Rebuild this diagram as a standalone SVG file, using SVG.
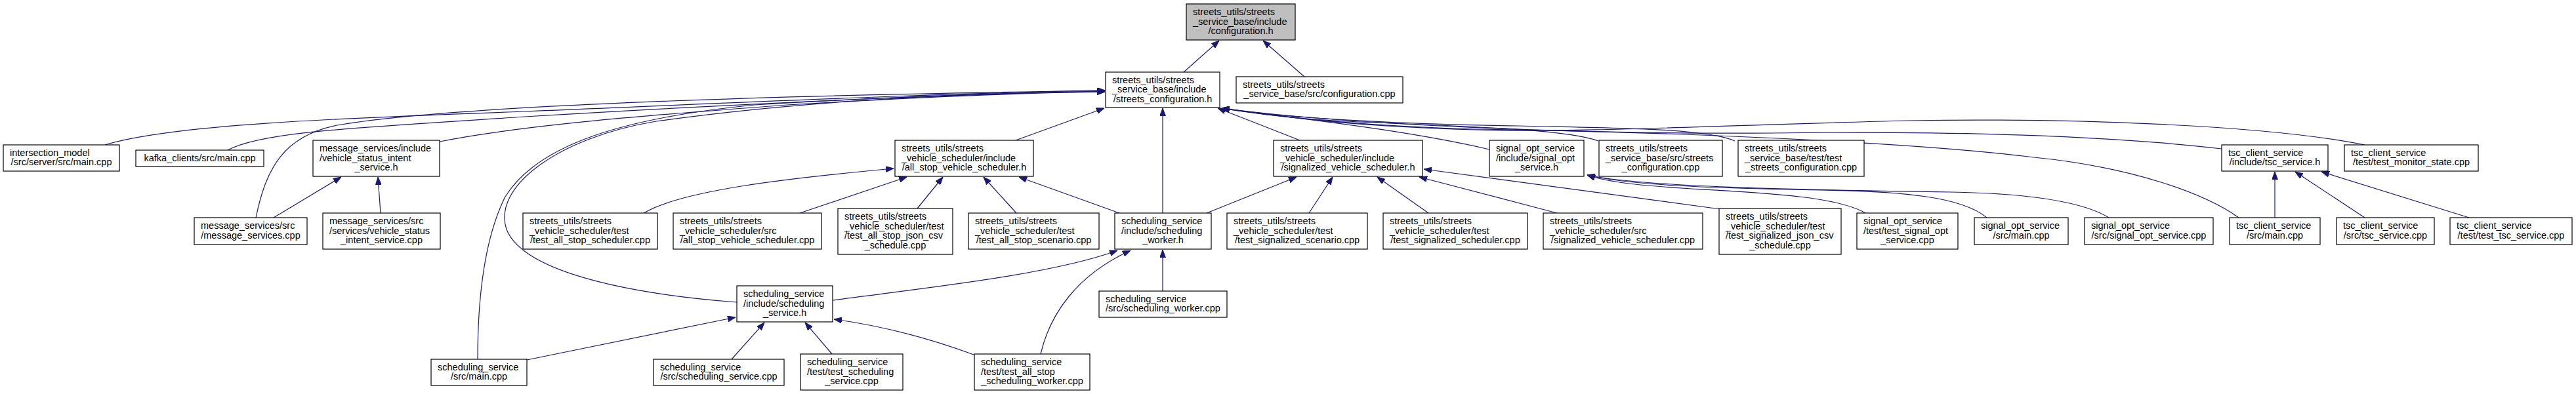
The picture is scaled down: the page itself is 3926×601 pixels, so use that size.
<svg xmlns="http://www.w3.org/2000/svg" width="3926" height="601" viewBox="0 0 3926 601">
<style>
.n rect{fill:#fff;stroke:#000;stroke-width:1.2}
.n.root rect{fill:#bfbfbf}
.n text{font-family:"Liberation Sans",Arial,sans-serif;font-size:14.5px;fill:#000}
.n .c{text-anchor:middle}
.e path{fill:none;stroke:#191970;stroke-width:1.2;marker-end:url(#ah)}
</style>
<defs>
<marker id="ah" markerWidth="12" markerHeight="9" refX="12" refY="4.5" orient="auto" markerUnits="userSpaceOnUse">
<path d="M0,0 L12,4.5 L0,9 z" fill="#191970" stroke="#191970" stroke-width="1"/>
</marker>
</defs>
<rect width="3926" height="601" fill="#fff"/>
<g id="edges" class="e">
<path d="M1804,110 L1858,62"/>
<path d="M1988,117 L1925,62"/>
<path d="M1548,214 L1683,165"/>
<path d="M1772,325 L1772,165"/>
<path d="M1981,214 L1856,165"/>
<path d="M160,221 C260,190 520,180 800,170 C1100,158 1400,143 1684,138"/>
<path d="M347,229 C400,200 550,195 800,178 C1100,160 1400,145 1684,139"/>
<path d="M670,216 C800,190 1000,175 1200,160 C1400,148 1550,142 1684,140"/>
<path d="M390,332 C405,260 430,205 520,190 C700,160 1200,145 1684,138"/>
<path d="M728,548 C728,450 740,360 770,300 C820,220 950,180 1150,160 C1400,145 1550,141 1684,140"/>
<path d="M1123,461 C980,450 800,420 772,350 C750,285 850,210 1000,185 C1250,150 1500,142 1684,139"/>
<path d="M1706,325 L1553,270"/>
<path d="M1549,325 L1499,270"/>
<path d="M1398,318 L1437,270"/>
<path d="M1219,325 L1382,270"/>
<path d="M981,325 C1040,290 1200,272 1362,257"/>
<path d="M1839,325 L1976,270"/>
<path d="M1995,325 L2031,270"/>
<path d="M2177,325 L2099,270"/>
<path d="M2373,325 L2163,270"/>
<path d="M2622,319 L2170,258"/>
<path d="M2270,228 C2150,200 2000,183 1862,165"/>
<path d="M2436,215 C2380,195 2200,192 2050,185 C1960,180 1910,172 1862,165"/>
<path d="M2644,215 C2600,195 2450,195 2313,192 C2150,190 1950,180 1862,165"/>
<path d="M3386,227 C3200,205 2950,200 2700,203 C2400,205 2050,190 1862,165"/>
<path d="M3604,221 C3450,190 3150,180 2909,184 C2650,190 2400,203 2250,198 C2050,192 1950,178 1862,165"/>
<path d="M3412,332 C3360,295 3250,255 3100,240 C2900,215 2500,200 2247,197 C2100,193 1950,180 1862,165"/>
<path d="M2843,325 C2800,300 2700,295 2578,288 C2500,283 2450,278 2419,267"/>
<path d="M3028,332 C2990,300 2900,292 2777,290 C2600,287 2480,282 2419,267"/>
<path d="M3214,332 C3170,305 3080,295 2975,293 C2750,290 2500,285 2419,267"/>
<path d="M3467,332 L3467,262"/>
<path d="M3604,332 L3498,262"/>
<path d="M3763,332 L3538,262"/>
<path d="M580,325 L576,270"/>
<path d="M417,332 L520,270"/>
<path d="M803,549 L1121,484"/>
<path d="M1115,548 L1165,492"/>
<path d="M1268,540 L1227,492"/>
<path d="M1484,541 C1400,510 1330,495 1271,487"/>
<path d="M1269,458 C1400,440 1600,420 1703,382"/>
<path d="M1586,540 C1600,480 1640,420 1723,382"/>
<path d="M1772,444 L1772,381"/>
</g>
<g id="n_root" class="n root"><rect x="1808" y="6" width="166" height="55"/><text x="1818" y="23">streets_utils/streets</text><text x="1818" y="37.5">_service_base/include</text><text class="c" x="1891" y="52">/configuration.h</text></g>
<g id="n_sc" class="n"><rect x="1685" y="110" width="174" height="54"/><text x="1695" y="126.5">streets_utils/streets</text><text x="1695" y="141">_service_base/include</text><text class="c" x="1772" y="155.5">/streets_configuration.h</text></g>
<g id="n_cfgcpp" class="n"><rect x="1884" y="117" width="254" height="40"/><text x="1894" y="133.75">streets_utils/streets</text><text class="c" x="2011" y="148.25">_service_base/src/configuration.cpp</text></g>
<g id="n_im" class="n"><rect x="5" y="221" width="177" height="40"/><text x="15" y="237.75">intersection_model</text><text class="c" x="93.5" y="252.25">/src/server/src/main.cpp</text></g>
<g id="n_kafka" class="n"><rect x="207" y="229" width="195" height="25"/><text class="c" x="304.5" y="245.5">kafka_clients/src/main.cpp</text></g>
<g id="n_vsi_h" class="n"><rect x="477" y="214" width="193" height="55"/><text x="487" y="231">message_services/include</text><text x="487" y="245.5">/vehicle_status_intent</text><text class="c" x="573.5" y="260">_service.h</text></g>
<g id="n_as" class="n"><rect x="1364" y="214" width="211" height="55"/><text x="1374" y="231">streets_utils/streets</text><text x="1374" y="245.5">_vehicle_scheduler/include</text><text class="c" x="1469.5" y="260">/all_stop_vehicle_scheduler.h</text></g>
<g id="n_sv" class="n"><rect x="1941" y="214" width="227" height="55"/><text x="1951" y="231">streets_utils/streets</text><text x="1951" y="245.5">_vehicle_scheduler/include</text><text class="c" x="2054.5" y="260">/signalized_vehicle_scheduler.h</text></g>
<g id="n_so_h" class="n"><rect x="2270" y="214" width="144" height="55"/><text x="2280" y="231">signal_opt_service</text><text x="2280" y="245.5">/include/signal_opt</text><text class="c" x="2342" y="260">_service.h</text></g>
<g id="n_sccpp" class="n"><rect x="2437" y="214" width="188" height="55"/><text x="2447" y="231">streets_utils/streets</text><text x="2447" y="245.5">_service_base/src/streets</text><text class="c" x="2531" y="260">_configuration.cpp</text></g>
<g id="n_tsccfg" class="n"><rect x="2649" y="214" width="192" height="55"/><text x="2659" y="231">streets_utils/streets</text><text x="2659" y="245.5">_service_base/test/test</text><text class="c" x="2745" y="260">_streets_configuration.cpp</text></g>
<g id="n_tsc_h" class="n"><rect x="3386" y="221" width="162" height="40"/><text x="3396" y="237.75">tsc_client_service</text><text class="c" x="3467" y="252.25">/include/tsc_service.h</text></g>
<g id="n_tms" class="n"><rect x="3573" y="221" width="204" height="40"/><text x="3583" y="237.75">tsc_client_service</text><text class="c" x="3675" y="252.25">/test/test_monitor_state.cpp</text></g>
<g id="n_mscpp" class="n"><rect x="296" y="332" width="172" height="41"/><text x="306" y="349.25">message_services/src</text><text class="c" x="382" y="363.75">/message_services.cpp</text></g>
<g id="n_vsicpp" class="n"><rect x="492" y="325" width="179" height="55"/><text x="502" y="342">message_services/src</text><text x="502" y="356.5">/services/vehicle_status</text><text class="c" x="581.5" y="371">_intent_service.cpp</text></g>
<g id="n_tass" class="n"><rect x="797" y="325" width="205" height="55"/><text x="807" y="342">streets_utils/streets</text><text x="807" y="356.5">_vehicle_scheduler/test</text><text class="c" x="899.5" y="371">/test_all_stop_scheduler.cpp</text></g>
<g id="n_asvcpp" class="n"><rect x="1026" y="325" width="226" height="55"/><text x="1036" y="342">streets_utils/streets</text><text x="1036" y="356.5">_vehicle_scheduler/src</text><text class="c" x="1139" y="371">/all_stop_vehicle_scheduler.cpp</text></g>
<g id="n_tasjson" class="n"><rect x="1277" y="318" width="175" height="70"/><text x="1287" y="335.25">streets_utils/streets</text><text x="1287" y="349.75">_vehicle_scheduler/test</text><text x="1287" y="364.25">/test_all_stop_json_csv</text><text class="c" x="1364.5" y="378.75">_schedule.cpp</text></g>
<g id="n_tasscen" class="n"><rect x="1476" y="325" width="199" height="55"/><text x="1486" y="342">streets_utils/streets</text><text x="1486" y="356.5">_vehicle_scheduler/test</text><text class="c" x="1575.5" y="371">/test_all_stop_scenario.cpp</text></g>
<g id="n_swh" class="n"><rect x="1699" y="325" width="147" height="55"/><text x="1709" y="342">scheduling_service</text><text x="1709" y="356.5">/include/scheduling</text><text class="c" x="1772.5" y="371">_worker.h</text></g>
<g id="n_tsigscen" class="n"><rect x="1870" y="325" width="214" height="55"/><text x="1880" y="342">streets_utils/streets</text><text x="1880" y="356.5">_vehicle_scheduler/test</text><text class="c" x="1977" y="371">/test_signalized_scenario.cpp</text></g>
<g id="n_tsigsched" class="n"><rect x="2108" y="325" width="220" height="55"/><text x="2118" y="342">streets_utils/streets</text><text x="2118" y="356.5">_vehicle_scheduler/test</text><text class="c" x="2218" y="371">/test_signalized_scheduler.cpp</text></g>
<g id="n_svcpp" class="n"><rect x="2352" y="325" width="243" height="55"/><text x="2362" y="342">streets_utils/streets</text><text x="2362" y="356.5">_vehicle_scheduler/src</text><text class="c" x="2473.5" y="371">/signalized_vehicle_scheduler.cpp</text></g>
<g id="n_tsigjson" class="n"><rect x="2620" y="318" width="186" height="70"/><text x="2630" y="335.25">streets_utils/streets</text><text x="2630" y="349.75">_vehicle_scheduler/test</text><text x="2630" y="364.25">/test_signalized_json_csv</text><text class="c" x="2713" y="378.75">_schedule.cpp</text></g>
<g id="n_tsocpp" class="n"><rect x="2830" y="325" width="154" height="55"/><text x="2840" y="342">signal_opt_service</text><text x="2840" y="356.5">/test/test_signal_opt</text><text class="c" x="2907" y="371">_service.cpp</text></g>
<g id="n_somain" class="n"><rect x="3009" y="332" width="143" height="41"/><text x="3019" y="349.25">signal_opt_service</text><text class="c" x="3080.5" y="363.75">/src/main.cpp</text></g>
<g id="n_socpp" class="n"><rect x="3177" y="332" width="196" height="41"/><text x="3187" y="349.25">signal_opt_service</text><text class="c" x="3275" y="363.75">/src/signal_opt_service.cpp</text></g>
<g id="n_tscmain" class="n"><rect x="3398" y="332" width="138" height="41"/><text x="3408" y="349.25">tsc_client_service</text><text class="c" x="3467" y="363.75">/src/main.cpp</text></g>
<g id="n_tsccpp" class="n"><rect x="3561" y="332" width="149" height="41"/><text x="3571" y="349.25">tsc_client_service</text><text class="c" x="3635.5" y="363.75">/src/tsc_service.cpp</text></g>
<g id="n_ttsc" class="n"><rect x="3734" y="332" width="186" height="41"/><text x="3744" y="349.25">tsc_client_service</text><text class="c" x="3827" y="363.75">/test/test_tsc_service.cpp</text></g>
<g id="n_ssh" class="n"><rect x="1123" y="436" width="146" height="55"/><text x="1133" y="453">scheduling_service</text><text x="1133" y="467.5">/include/scheduling</text><text class="c" x="1196" y="482">_service.h</text></g>
<g id="n_swcpp" class="n"><rect x="1675" y="444" width="195" height="40"/><text x="1685" y="460.75">scheduling_service</text><text class="c" x="1772.5" y="475.25">/src/scheduling_worker.cpp</text></g>
<g id="n_ssmain" class="n"><rect x="657" y="548" width="146" height="40"/><text x="667" y="564.75">scheduling_service</text><text class="c" x="730" y="579.25">/src/main.cpp</text></g>
<g id="n_sscpp" class="n"><rect x="996" y="548" width="199" height="40"/><text x="1006" y="564.75">scheduling_service</text><text class="c" x="1095.5" y="579.25">/src/scheduling_service.cpp</text></g>
<g id="n_tss" class="n"><rect x="1220" y="540" width="156" height="55"/><text x="1230" y="557">scheduling_service</text><text x="1230" y="571.5">/test/test_scheduling</text><text class="c" x="1298" y="586">_service.cpp</text></g>
<g id="n_taswk" class="n"><rect x="1485" y="540" width="176" height="55"/><text x="1495" y="557">scheduling_service</text><text x="1495" y="571.5">/test/test_all_stop</text><text class="c" x="1573" y="586">_scheduling_worker.cpp</text></g>
</svg>
